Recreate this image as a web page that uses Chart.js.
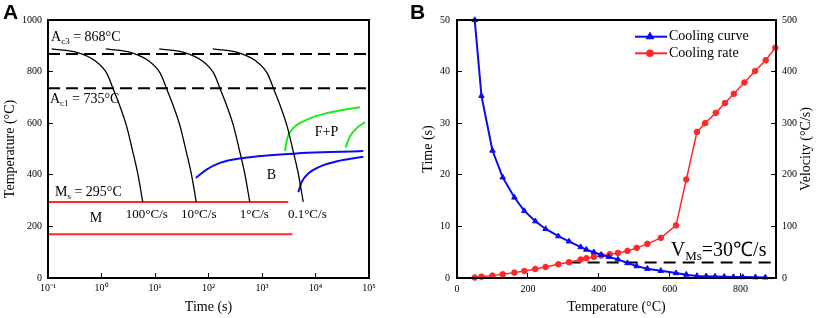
<!DOCTYPE html>
<html>
<head>
<meta charset="utf-8">
<script src="https://cdn.jsdelivr.net/npm/chart.js@4.4.0/dist/chart.umd.min.js"></script>
<style>
  html, body { margin: 0; padding: 0; background: #fff; }
  #wrap { position: relative; width: 816px; height: 318px; }
  #cA { position: absolute; left: 0; top: 0; }
  #cB { position: absolute; left: 400px; top: 0; }
</style>
</head>
<body>
<div id="wrap">
  <canvas id="cA" width="400" height="318"></canvas>
  <canvas id="cB" width="416" height="318"></canvas>
</div>
<script>
// ---------- panel A data (CCT diagram) ----------
const timeTicks = [0.1, 1, 10, 100, 1000, 10000, 100000];
const timeTickLabels = ['10⁻¹', '10⁰', '10¹', '10²', '10³', '10⁴', '10⁵'];
const tempTicksA = [0, 200, 400, 600, 800, 1000];

const ac3Temp = 868;
const ac1Temp = 735;
const msTemp = 295;
const mfTemp = 170;
const msEndTime = 3100;
const mfEndTime = 3700;

// cooling curves (temperature points shared, times read per curve)
const curveTemp = [888, 873, 842, 794, 732, 665, 587, 497, 407, 295];
const rate100Time = [0.117, 0.37, 0.76, 1.25, 1.66, 2.22, 2.96, 3.77, 4.74, 5.9];
const rate10Time = [1.2, 3.7, 7.6, 12.5, 16.6, 22.2, 29.6, 37.7, 47.4, 59];
const rate1Time = [12, 37, 76, 125, 166, 222, 296, 377, 474, 590];
const rate01Time = [120, 370, 760, 1250, 1660, 2220, 2960, 3770, 4740, 5900];

// bainite start / end
const bainStartTime = [58, 92, 164, 448, 1225, 4446, 18700, 78300];
const bainStartTemp = [388, 420, 446, 465, 475, 483, 488, 492];
const bainEndTime = [4780, 5520, 7350, 12100, 28700, 78300];
const bainEndTemp = [333, 372, 405, 432, 455, 470];

// ferrite + pearlite
const fpStartTime = [2690, 2970, 3850, 6840, 16200, 67900];
const fpStartTemp = [493, 542, 581, 613, 639, 662];
const fpEndTime = [36600, 44100, 58900, 84100];
const fpEndTemp = [506, 549, 581, 604];

// ---------- panel B data ----------
const tempTicksB = [0, 200, 400, 600, 800];
const coolTemp = [50, 69, 100, 129, 162, 190, 221, 250, 286, 316, 349, 365, 386, 407, 428, 454, 481, 507, 537, 575, 618, 647, 677, 703, 728, 754, 780, 806, 842, 870];
const coolTime = [50, 35.3, 24.7, 19.5, 15.6, 13.0, 11.0, 9.5, 8.1, 7.1, 6.0, 5.5, 5.0, 4.5, 4.1, 3.6, 2.9, 2.3, 1.8, 1.4, 0.95, 0.65, 0.4, 0.35, 0.3, 0.25, 0.2, 0.18, 0.15, 0.12];
const rateTemp = [50, 69, 100, 129, 162, 190, 221, 250, 286, 316, 349, 365, 386, 407, 431, 454, 481, 507, 537, 575, 618, 647, 677, 700, 730, 756, 781, 811, 841, 871, 898];
const rateVel = [1, 2.7, 4.6, 7.2, 10.4, 13.6, 17.5, 21.4, 26.6, 30.5, 35.8, 38.3, 40.9, 43.6, 46.1, 48.6, 52.5, 58.4, 66.1, 77.8, 102, 191, 283, 300, 320, 339, 357, 379, 401, 422, 446];
const vMs = 30;
const vMsFrom = 315;
const vMsTo = 885;

const SERIF = '"Liberation Serif", "Times New Roman", serif';
const BLACK = '#000';
const BLUE = 'rgb(10,10,245)';
const RED = 'rgb(255,40,40)';
const GREEN = 'rgb(30,235,30)';

const pts = (xs, ys) => xs.map((x, i) => ({ x: x, y: ys[i] }));

function rich(ctx, x, y, parts) {
  let cx = x;
  parts.forEach(p => {
    ctx.font = p[1] + 'px ' + SERIF;
    ctx.fillText(p[0], cx, y + (p[2] || 0));
    cx += ctx.measureText(p[0]).width;
  });
}

const framePlugin = {
  id: 'frame',
  afterDraw(chart) {
    const { ctx, chartArea: a } = chart;
    ctx.save();
    ctx.strokeStyle = BLACK;
    ctx.lineWidth = 2;
    ctx.strokeRect(a.left, a.top, a.right - a.left, a.bottom - a.top);
    ctx.restore();
  }
};

function panelTag(letter, x) {
  return {
    id: 'tag' + letter,
    afterDraw(chart) {
      const ctx = chart.ctx;
      ctx.save();
      ctx.fillStyle = BLACK;
      ctx.font = 'bold 21px "Liberation Sans", Arial, sans-serif';
      ctx.textBaseline = 'alphabetic';
      ctx.fillText(letter, x, 19);
      ctx.restore();
    }
  };
}

// ---------- panel A ----------
const labelsA = [
  { t: 0.114, T: 919, parts: [['A', 14], ['c3', 9, 3], [' = 868°C', 14]] },
  { t: 0.109, T: 679, parts: [['A', 14], ['c1', 9, 3], [' = 735°C', 14]] },
  { t: 0.135, T: 316, parts: [['M', 14], ['s', 9, 3], [' = 295°C', 14]] },
  { t: 0.6, T: 216, parts: [['M', 14]] },
  { t: 2.85, T: 233, parts: [['100°C/s', 13]] },
  { t: 30.5, T: 233, parts: [['10°C/s', 13]] },
  { t: 385, T: 233, parts: [['1°C/s', 13]] },
  { t: 3050, T: 233, parts: [['0.1°C/s', 13]] },
  { t: 1230, T: 384, parts: [['B', 14]] },
  { t: 9700, T: 552, parts: [['F+P', 14]] }
];

const textA = {
  id: 'textA',
  afterDraw(chart) {
    const { ctx, scales } = chart;
    ctx.save();
    ctx.fillStyle = BLACK;
    ctx.textBaseline = 'alphabetic';
    labelsA.forEach(l => {
      rich(ctx, scales.x.getPixelForValue(l.t), scales.y.getPixelForValue(l.T), l.parts);
    });
    ctx.restore();
  }
};

const lineDs = (data, color, width, dash) => ({
  data: data,
  borderColor: color,
  borderWidth: width,
  borderDash: dash || [],
  pointRadius: 0,
  fill: false,
  cubicInterpolationMode: 'monotone'
});

new Chart(document.getElementById('cA'), {
  type: 'line',
  data: {
    datasets: [
      lineDs(pts([0.1, 100000], [ac3Temp, ac3Temp]), BLACK, 2, [12, 6]),
      lineDs(pts([0.1, 100000], [ac1Temp, ac1Temp]), BLACK, 2, [12, 6]),
      lineDs(pts(rate100Time, curveTemp), BLACK, 1.3),
      lineDs(pts(rate10Time, curveTemp), BLACK, 1.3),
      lineDs(pts(rate1Time, curveTemp), BLACK, 1.3),
      lineDs(pts(rate01Time, curveTemp), BLACK, 1.3),
      lineDs(pts([0.1, msEndTime], [msTemp, msTemp]), RED, 2),
      lineDs(pts([0.1, mfEndTime], [mfTemp, mfTemp]), RED, 2),
      lineDs(pts(bainStartTime, bainStartTemp), BLUE, 2),
      lineDs(pts(bainEndTime, bainEndTemp), BLUE, 2),
      lineDs(pts(fpStartTime, fpStartTemp), GREEN, 2),
      lineDs(pts(fpEndTime, fpEndTemp), GREEN, 2)
    ]
  },
  options: {
    responsive: false,
    animation: false,
    layout: { padding: { top: 20, right: 31, left: 0, bottom: 0 } },
    plugins: { legend: { display: false }, tooltip: { enabled: false } },
    scales: {
      x: {
        type: 'logarithmic',
        min: 0.1,
        max: 100000,
        afterBuildTicks: s => { s.ticks = timeTicks.map(v => ({ value: v })); },
        afterFit: s => { s.height = 40; },
        ticks: {
          autoSkip: false, maxRotation: 0, padding: 9, color: BLACK,
          font: { family: SERIF, size: 10 },
          callback: v => { const i = timeTicks.indexOf(v); return i >= 0 ? timeTickLabels[i] : ''; }
        },
        grid: { drawOnChartArea: false, tickLength: -5, color: BLACK },
        border: { color: BLACK, width: 2 },
        title: { display: true, text: 'Time (s)', color: BLACK, font: { family: SERIF, size: 14 }, padding: { top: 0, bottom: 2 } }
      },
      y: {
        min: 0,
        max: 1000,
        afterBuildTicks: s => { s.ticks = tempTicksA.map(v => ({ value: v })); },
        afterFit: s => { s.width = 48; },
        ticks: { padding: 11, color: BLACK, font: { family: SERIF, size: 10 }, callback: v => String(v) },
        grid: { drawOnChartArea: false, tickLength: -5, color: BLACK },
        border: { color: BLACK, width: 2 },
        title: { display: true, text: 'Temperature (°C)', color: BLACK, font: { family: SERIF, size: 14 }, padding: { top: 2, bottom: 0 } }
      }
    }
  },
  plugins: [framePlugin, textA, panelTag('A', 3)]
});

// ---------- panel B ----------
const legendB = {
  id: 'legendB',
  afterDraw(chart) {
    const { ctx, scales, chartArea } = chart;
    const items = [
      { label: 'Cooling curve', color: BLUE, style: 'triangle', r: 3.2, y: 36.7 },
      { label: 'Cooling rate', color: RED, style: 'circle', r: 2.8, y: 53.3 }
    ];
    ctx.save();
    items.forEach(it => {
      ctx.strokeStyle = it.color;
      ctx.lineWidth = 2;
      ctx.beginPath();
      ctx.moveTo(235, it.y);
      ctx.lineTo(267, it.y);
      ctx.stroke();
      ctx.fillStyle = it.color;
      Chart.helpers.drawPoint(ctx, { pointStyle: it.style, radius: it.r, rotation: 0, borderWidth: 1 }, 250, it.y);
      ctx.fillStyle = BLACK;
      ctx.textBaseline = 'middle';
      ctx.font = '14px ' + SERIF;
      ctx.fillText(it.label, 269, it.y);
    });
    // V_Ms annotation
    ctx.textBaseline = 'alphabetic';
    const x0 = scales.x.getPixelForValue(603);
    const y0 = scales.y1.getPixelForValue(42);
    rich(ctx, x0, y0, [['V', 20], ['Ms', 13, 4], ['=30℃/s', 20]]);
    // right axis title, reading bottom to top
    ctx.translate(406, (chartArea.top + chartArea.bottom) / 2);
    ctx.rotate(-Math.PI / 2);
    ctx.textAlign = 'center';
    ctx.textBaseline = 'middle';
    ctx.font = '14px ' + SERIF;
    ctx.fillText('Velocity (°C/s)', 0, 0);
    ctx.restore();
  }
};

new Chart(document.getElementById('cB'), {
  type: 'line',
  data: {
    datasets: [
      {
        label: 'Cooling curve',
        data: pts(coolTemp, coolTime),
        yAxisID: 'y',
        borderColor: BLUE,
        backgroundColor: BLUE,
        borderWidth: 2,
        pointStyle: 'triangle',
        pointRadius: 3.2,
        pointBorderWidth: 1,
        clip: false
      },
      {
        label: 'Cooling rate',
        data: pts(rateTemp, rateVel),
        yAxisID: 'y1',
        borderColor: RED,
        backgroundColor: RED,
        borderWidth: 1.5,
        pointStyle: 'circle',
        pointRadius: 2.8,
        pointBorderWidth: 1,
        clip: false
      },
      {
        label: 'VMs',
        data: pts([vMsFrom, vMsTo], [vMs, vMs]),
        yAxisID: 'y1',
        borderColor: BLACK,
        borderWidth: 2,
        borderDash: [12, 7],
        pointRadius: 0
      }
    ]
  },
  options: {
    responsive: false,
    animation: false,
    layout: { padding: { top: 20, right: 0, left: 0, bottom: 0 } },
    plugins: { legend: { display: false }, tooltip: { enabled: false } },
    scales: {
      x: {
        type: 'linear',
        min: 0,
        max: 900,
        afterBuildTicks: s => { s.ticks = tempTicksB.map(v => ({ value: v })); },
        afterFit: s => { s.height = 40; },
        ticks: { padding: 10, color: BLACK, font: { family: SERIF, size: 10 } },
        grid: { drawOnChartArea: false, tickLength: -5, color: BLACK },
        border: { color: BLACK, width: 2 },
        title: { display: true, text: 'Temperature (°C)', color: BLACK, font: { family: SERIF, size: 14 }, padding: { top: 0, bottom: 2 } }
      },
      y: {
        position: 'left',
        min: 0,
        max: 50,
        afterFit: s => { s.width = 57; },
        ticks: { stepSize: 10, padding: 12, color: BLACK, font: { family: SERIF, size: 10 } },
        grid: { drawOnChartArea: false, tickLength: -5, color: BLACK },
        border: { color: BLACK, width: 2 },
        title: { display: true, text: 'Time (s)', color: BLACK, font: { family: SERIF, size: 14 }, padding: { top: 20, bottom: 0 } }
      },
      y1: {
        position: 'right',
        min: 0,
        max: 500,
        afterFit: s => { s.width = 40; },
        ticks: { stepSize: 100, padding: 11, color: BLACK, font: { family: SERIF, size: 10 } },
        grid: { drawOnChartArea: false, tickLength: -5, color: BLACK },
        border: { color: BLACK, width: 2 },
        title: { display: false }
      }
    }
  },
  plugins: [framePlugin, legendB, panelTag('B', 10)]
});
</script>
</body>
</html>
